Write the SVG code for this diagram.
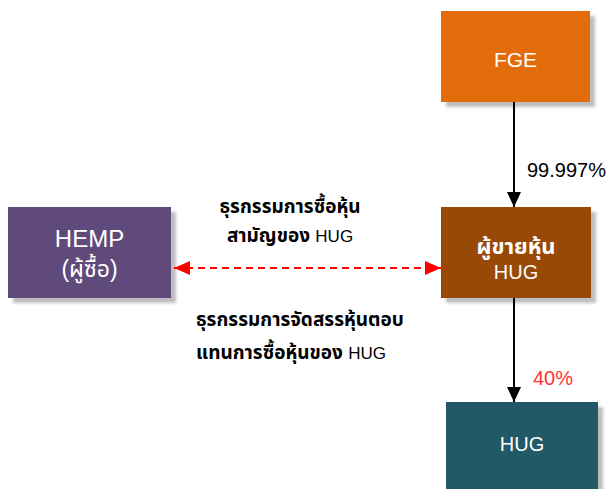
<svg xmlns="http://www.w3.org/2000/svg" width="608" height="489" viewBox="0 0 608 489">
<style>
.nt{font-family:"Liberation Sans","Noto Sans Thai","Noto Sans",Tahoma,sans-serif;fill:#fff;text-anchor:middle}
.lb{font-family:"Liberation Sans","Noto Sans Thai","Noto Sans",Tahoma,sans-serif;font-weight:bold;font-size:19px;fill:#000}
.en{font-weight:normal;font-size:17px}
.pc{font-family:"Liberation Sans","Noto Sans",sans-serif;font-size:20px}
.sh{fill:#000;opacity:0.25}
</style>
<defs>
<filter id="blur" x="-10%" y="-10%" width="130%" height="130%"><feGaussianBlur stdDeviation="1.5"/></filter>
<marker id="ab" markerWidth="15" markerHeight="14" refX="15" refY="7" orient="auto-start-reverse" markerUnits="userSpaceOnUse" viewBox="0 0 15 14">
<path d="M0,0 L15,7 L0,14 Z" fill="#000"/>
</marker>
<marker id="ar" markerWidth="16" markerHeight="14" refX="16" refY="7" orient="auto-start-reverse" markerUnits="userSpaceOnUse" viewBox="0 0 16 14">
<path d="M0,0 L16,7 L0,14 Z" fill="#ff0000"/>
</marker>
</defs>
<rect width="608" height="489" fill="#fff"/>
<g id="FGE">
<rect class="sh" x="446" y="16" width="149" height="91" filter="url(#blur)"/>
<rect x="441" y="11" width="149" height="91" fill="#e36c0a"/>
<text class="nt" x="515.5" y="67" font-size="21">FGE</text>
</g>
<g id="seller">
<rect class="sh" x="446" y="212" width="150" height="91" filter="url(#blur)"/>
<rect x="441" y="207" width="150" height="91" fill="#984807"/>
<text class="nt" x="516" y="254" font-size="22" font-weight="bold">ผู้ขายหุ้น</text>
<text class="nt" x="516" y="279" font-size="20">HUG</text>
</g>
<g id="HEMP">
<rect class="sh" x="13" y="212" width="163" height="91" filter="url(#blur)"/>
<rect x="8" y="207" width="163" height="91" fill="#604a7b"/>
<text class="nt" x="89.5" y="247" font-size="24">HEMP</text>
<text class="nt" x="89.5" y="277" font-size="23">(ผู้ซื้อ)</text>
</g>
<g id="HUG">
<rect class="sh" x="451" y="407" width="152" height="90" filter="url(#blur)"/>
<rect x="446" y="402" width="152" height="90" fill="#215967"/>
<text class="nt" x="522" y="451" font-size="20">HUG</text>
</g>
<g id="connectors">
<line x1="514" y1="102" x2="514" y2="207" stroke="#000" stroke-width="2" marker-end="url(#ab)"/>
<line x1="514" y1="298" x2="514" y2="402" stroke="#000" stroke-width="2" marker-end="url(#ab)"/>
<line x1="174" y1="268" x2="441" y2="268" stroke="#ff0000" stroke-width="2" stroke-dasharray="7,5" marker-start="url(#ar)" marker-end="url(#ar)"/>
</g>
<g id="labels">
<text class="pc" x="527" y="177" fill="#000">99.997%</text>
<text class="pc" x="533" y="385" fill="#ff3333">40%</text>
<text class="lb" x="290" y="213" text-anchor="middle">ธุรกรรมการซื้อหุ้น</text>
<text class="lb" x="290" y="242" text-anchor="middle">สามัญของ <tspan class="en">HUG</tspan></text>
<text class="lb" x="196" y="326">ธุรกรรมการจัดสรรหุ้นตอบ</text>
<text class="lb" x="196" y="359">แทนการซื้อหุ้นของ <tspan class="en">HUG</tspan></text>
</g>
</svg>
